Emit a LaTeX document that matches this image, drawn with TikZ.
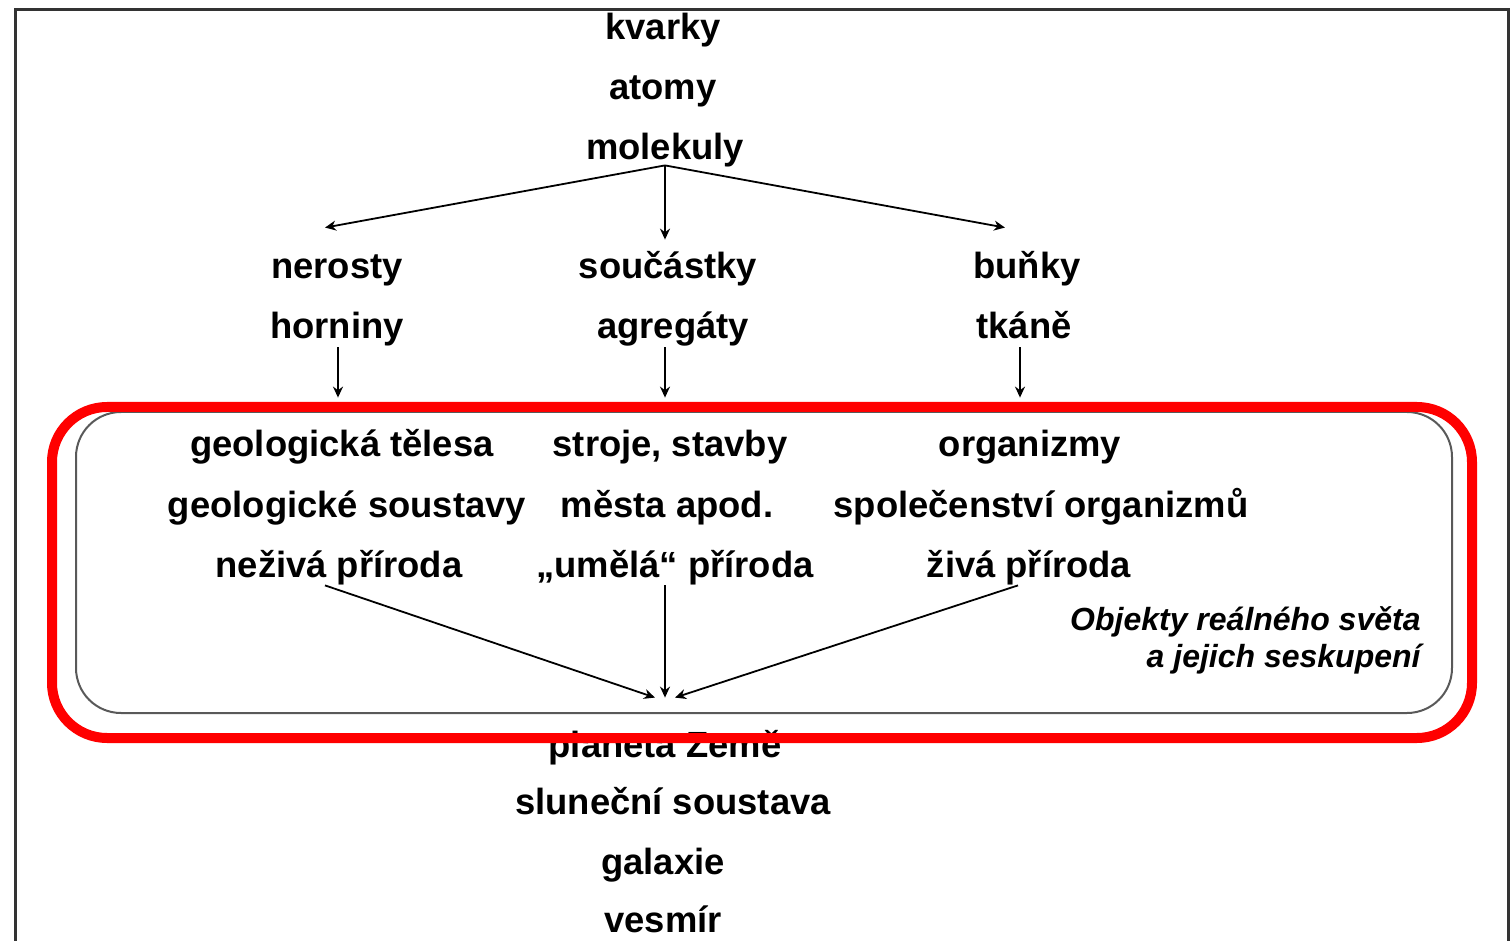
\documentclass[tikz,border=0pt]{standalone}
\usepackage{fontspec}
\setmainfont{Liberation Sans}
\usetikzlibrary{arrows.meta}

\begin{document}
\begin{tikzpicture}[x=0.5pt, y=-0.5pt, >={Stealth[length=5.5pt,width=5pt]},
  lbl/.style={anchor=base, inner sep=0pt, text height=13pt, text depth=4pt, font=\fontsize{18.2}{21}\selectfont\bfseries},
  note/.style={anchor=base east, inner sep=0pt, font=\fontsize{16}{19}\selectfont\bfseries\itshape},
  link/.style={->, line width=0.9pt},
  frame/.style={line width=1.5pt, draw=black!80},
  zone/.style={line width=1pt, draw=black!65, rounded corners=22.5pt},
  hilite/.style={line width=5pt, draw=red, rounded corners=27.5pt}]
  \useasboundingbox (0,0) rectangle (1512,941);
  \draw[frame] (15,941) -- (15,10) -- (1508,10) -- (1508,941);
  % small scales
  \node[lbl] (kvarky) at (663,40) {kvarky};
  \node[lbl] (atomy) at (663,100) {atomy};
  \node[lbl] (molekuly) at (665,160) {molekuly};
  \node[lbl] (nerosty) at (337,279) {nerosty};
  \node[lbl] (horniny) at (337,339) {horniny};
  \node[lbl] (soucastky) at (668,279) {součástky};
  \node[lbl] (agregaty) at (673,339) {agregáty};
  \node[lbl] (bunky) at (1027,279) {buňky};
  \node[lbl] (tkane) at (1024,339) {tkáně};
  % objects of the real world
  \node[lbl] (geoteles) at (342,457) {geologická tělesa};
  \node[lbl] (geosoust) at (347,517) {geologické soustavy};
  \node[lbl] (neziva) at (339,577) {neživá příroda};
  \node[lbl] (stroje) at (670,457) {stroje, stavby};
  \node[lbl] (mesta) at (667,517) {města apod.};
  \node[lbl] (umela) at (675,577) {„umělá“ příroda};
  \node[lbl] (organizmy) at (1030,457) {organizmy};
  \node[lbl] (spolecenstvi) at (1041,517) {společenství organizmů};
  \node[lbl] (ziva) at (1029,577) {živá příroda};
  \node[note] (objekty) at (1421,630) {Objekty reálného světa};
  \node[note] (seskupeni) at (1421,668) {a jejich seskupení};
  % large scales
  \node[lbl] (zeme) at (665,757) {planeta Země};
  \node[lbl] (soustava) at (673,814) {sluneční soustava};
  \node[lbl] (galaxie) at (663,874) {galaxie};
  \node[lbl] (vesmir) at (663,932) {vesmír};
  \draw[link] ([yshift=1.5pt]molekuly.south) -- ([xshift=-6pt,yshift=12.5pt]nerosty.north);
  \draw[link] ([yshift=1.5pt]molekuly.south) -- ([xshift=-1.5pt,yshift=6.5pt]soucastky.north);
  \draw[link] ([yshift=1.5pt]molekuly.south) -- ([xshift=-11pt,yshift=12.5pt]bunky.north);
  \draw[link] ([xshift=0.5pt]horniny.south) -- ([xshift=-2pt,yshift=16.5pt]geoteles.north);
  \draw[link] ([xshift=-4pt]agregaty.south) -- ([xshift=-2.5pt,yshift=16.5pt]stroje.north);
  \draw[link] ([xshift=-2pt]tkane.south) -- ([xshift=-5pt,yshift=16.5pt]organizmy.north);
  \draw[link] ([xshift=-7pt]neziva.south) -- ([xshift=-5pt,yshift=16.5pt]zeme.north);
  \draw[link] ([xshift=-5pt]umela.south) -- ([yshift=16.5pt]zeme.north);
  \draw[link] ([xshift=-5.5pt]ziva.south) -- ([xshift=5pt,yshift=16.5pt]zeme.north);
  \draw[zone] (76,412) rectangle (1452,713);
  \draw[hilite] (52,407) rectangle (1472,738);
\end{tikzpicture}
\end{document}
